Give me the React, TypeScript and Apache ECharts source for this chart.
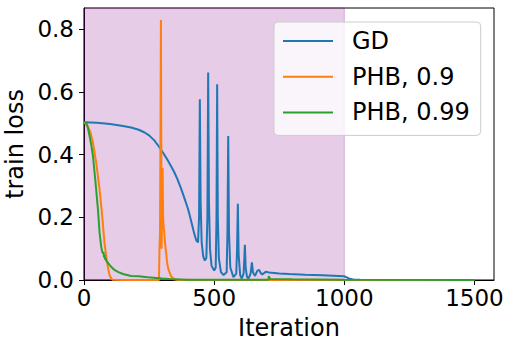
import React, { useEffect, useRef } from "react";
import * as echarts from "echarts";

const seriesNames = ["GD", "PHB, 0.9", "PHB, 0.99"];
const seriesColors = ["#1f77b4", "#ff7f0e", "#2ca02c"];

const xTicks = [0, 500, 1000, 1500];
const yTicks = [0, 0.2, 0.4, 0.6, 0.8];
const xMax = 1575;
const yMax = 0.867;
const shadedSpan = [0, 1000];

const gdPoints: [number, number][] = [
  [0, 0.503], [50, 0.501], [100, 0.497], [150, 0.491], [181, 0.486], [210, 0.479],
  [231, 0.471], [250, 0.461], [270, 0.445], [289, 0.424], [305, 0.404], [320, 0.384],
  [335, 0.362], [346, 0.345], [358, 0.323], [370, 0.298], [381, 0.272], [391, 0.248],
  [399, 0.228], [405, 0.21], [411, 0.19], [417, 0.17], [422, 0.153], [427, 0.138],
  [432, 0.125], [438, 0.12], [442, 0.2],
  [445, 0.576], [448, 0.25], [452, 0.12], [458, 0.075], [464, 0.062], [470, 0.07],
  [474, 0.2], [477, 0.661], [480, 0.25], [484, 0.1], [490, 0.045], [500, 0.03],
  [506, 0.04], [509, 0.2], [511.5, 0.624], [514, 0.2], [518, 0.07], [526, 0.025],
  [536, 0.016], [548, 0.025], [551, 0.15], [554, 0.459], [557, 0.15], [562, 0.04],
  [574, 0.009], [585, 0.02], [588, 0.1], [591, 0.243], [594, 0.08], [600, 0.015],
  [606, 0.005], [613, 0.02], [616, 0.07], [618, 0.112], [621, 0.04], [626, 0.01],
  [632, 0.005], [640, 0.02], [645, 0.056], [649, 0.025], [657, 0.013], [666, 0.03],
  [673, 0.032], [679, 0.022], [685, 0.018], [698, 0.026], [711, 0.024], [750, 0.021],
  [788, 0.019], [850, 0.017], [916, 0.015], [999, 0.012], [1018, 0.005], [1037, 0.001],
  [1060, 0.0005], [1200, 0.0002], [1500, 0.0001],
];

const phb09Points: [number, number][] = [
  [0, 0.503], [15, 0.49], [25, 0.47], [34.5, 0.437], [47, 0.373], [60, 0.288],
  [69, 0.213], [79, 0.117], [89, 0.053], [98, 0.016], [105, 0.004], [111, 0.0005],
  [150, 0], [288, 0], [290, 0.1], [292, 0.15], [294, 0.5], [295.5, 0.829], [297, 0.4],
  [298, 0.1], [300, 0.2], [302, 0.357], [304, 0.2], [306, 0.17], [308, 0.155],
  [311, 0.12], [315, 0.09], [320, 0.05], [325, 0.032], [335, 0.011], [348, 0.002],
  [360, 0], [1500, 0],
];

const phb099Points: [number, number][] = [
  [0, 0.503], [9, 0.5], [15, 0.485], [21.5, 0.459], [28, 0.43], [34.5, 0.395],
  [44.5, 0.309], [53.7, 0.224], [60, 0.149], [66, 0.107], [70, 0.09], [73, 0.085],
  [75, 0.09], [77, 0.072], [79, 0.08], [81, 0.065], [83, 0.07], [86, 0.06],
  [90, 0.058], [94, 0.052], [98, 0.048], [107, 0.04], [117, 0.032], [130, 0.026],
  [150, 0.019], [181, 0.013], [210, 0.012], [245, 0.009], [300, 0.005], [348, 0.002],
  [400, 0.001], [708, 0.0005], [710, 0.012], [713, 0.006], [716, 0.003], [800, 0.002],
  [1000, 0.001], [1500, 0.0003],
];

const allData = [gdPoints, phb09Points, phb099Points];

const FONT = "DejaVu Sans";

export default function App() {
  const ref = useRef<HTMLDivElement>(null);
  useEffect(() => {
    if (!ref.current) return;
    const chart = echarts.init(ref.current, undefined, { renderer: "svg" });
    chart.setOption({
      animation: false,
      textStyle: { fontFamily: FONT, color: "#000" },
      grid: {
        left: 84, top: 8, right: 21, bottom: 70,
        outerBoundsMode: "none", containLabel: false,
        show: true, borderColor: "#000", borderWidth: 1, backgroundColor: "transparent",
      },
      xAxis: {
        type: "value", min: 0, max: xMax,
        name: "Iteration", nameLocation: "middle", nameGap: 36,
        nameTextStyle: { fontSize: 24, fontFamily: FONT, color: "#000" },
        axisLine: { show: true, onZero: false, lineStyle: { color: "#000", width: 1 } },
        axisTick: { show: true, length: 5, lineStyle: { color: "#000", width: 1 }, customValues: xTicks },
        axisLabel: { fontSize: 23, fontFamily: FONT, color: "#000", margin: 6, customValues: xTicks, formatter: (v: number) => String(v) },
        splitLine: { show: false },
      },
      yAxis: {
        type: "value", min: 0, max: yMax,
        name: "train loss", nameLocation: "middle", nameGap: 43,
        nameTextStyle: { fontSize: 24, fontFamily: FONT, color: "#000" },
        axisLine: { show: true, onZero: false, lineStyle: { color: "#000", width: 1 } },
        axisTick: { show: true, length: 5, lineStyle: { color: "#000", width: 1 }, customValues: yTicks },
        axisLabel: { fontSize: 23, fontFamily: FONT, color: "#000", margin: 10, customValues: yTicks, formatter: (v: number) => v.toFixed(1) },
        splitLine: { show: false },
      },
      legend: {
        data: seriesNames,
        orient: "vertical",
        left: 274, top: 22,
        padding: [7, 11, 11, 9],
        icon: "rect",
        itemWidth: 50, itemHeight: 2, itemGap: 11.7,
        backgroundColor: "rgba(255,255,255,0.8)",
        borderColor: "#cccccc", borderWidth: 1, borderRadius: 4,
        textStyle: { fontSize: 24, fontFamily: FONT, color: "#000", padding: [0, 0, 0, 14], lineHeight: 24 },
      },
      series: [
        {
          name: "span", type: "line", data: [], silent: true, z: 1,
          markArea: {
            silent: true,
            itemStyle: { color: "rgba(128,0,128,0.2)", borderColor: "rgba(128,0,128,0.25)", borderWidth: 1 },
            data: [[{ xAxis: shadedSpan[0] }, { xAxis: shadedSpan[1] }]],
          },
        },
        ...seriesNames.map((name, i) => ({
          name, type: "line", data: allData[i], showSymbol: false, symbol: "none",
          z: 2 + i,
          color: seriesColors[i],
          lineStyle: { color: seriesColors[i], width: 2 },
        })),
      ],
    });
    return () => chart.dispose();
  }, []);
  return <div ref={ref} style={{ position: "absolute", left: 0, top: 0, width: 515, height: 350 }} />;
}
